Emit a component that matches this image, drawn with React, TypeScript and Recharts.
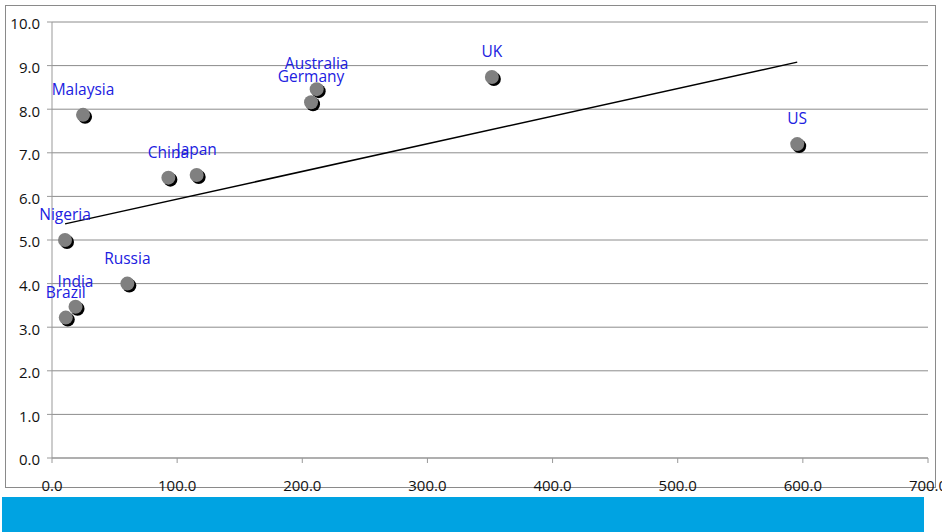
import React from "react";
import {
  ScatterChart, Scatter, XAxis, YAxis, CartesianGrid, LabelList,
} from "recharts";

const countries = ["Malaysia", "Nigeria", "Brazil", "India", "Russia", "China", "Japan", "Australia", "Germany", "UK", "US"];
const xValues = [24.8, 10.4, 11.0, 18.8, 60.2, 93.0, 115.6, 211.5, 207.0, 351.5, 595.5];
const yValues = [7.87, 5.0, 3.22, 3.47, 4.0, 6.43, 6.49, 8.46, 8.16, 8.74, 7.2];

const trendX = [10.4, 595.5];
const trendY = [5.37, 9.08];

const xTicks = [0, 100, 200, 300, 400, 500, 600, 700];
const yTicks = [0, 1, 2, 3, 4, 5, 6, 7, 8, 9, 10];

const points = countries.map((name, i) => ({ name, x: xValues[i], y: yValues[i] }));
const trend = trendX.map((x, i) => ({ x, y: trendY[i] }));

const FONT = "'Open Sans', sans-serif";

const Marker = (props: any) => {
  const { cx, cy } = props;
  return (
    <g>
      <circle cx={cx + 2} cy={cy + 2} r={7} fill="#000" />
      <circle cx={cx} cy={cy} r={7} fill="#808080" />
    </g>
  );
};

const PointLabel = (props: any) => {
  const { x, y, width, value } = props;
  const cx = x + width / 2;
  return (
    <text x={cx} y={y + width / 2 - 20} textAnchor="middle" fill="#2020e0" fontSize={15.5} fontFamily={FONT}>
      {value}
    </text>
  );
};

export default function App() {
  return (
    <div style={{ position: "absolute", left: 0, top: 0, width: 942, height: 532, background: "#fff" }}>
      <div style={{ position: "absolute", left: 5, top: 5, width: 929, height: 481, border: "1px solid #8a8a8a" }} />
      <div style={{ position: "absolute", left: 2, top: 497, width: 922, height: 35, background: "#00a3e2" }} />
      <div style={{ position: "absolute", left: 0, top: 0 }}>
        <ScatterChart width={942} height={532} margin={{ top: 22, right: 14, left: 7, bottom: 44 }}>
          <CartesianGrid vertical={false} stroke="#8c8c8c" strokeWidth={1} />
          <XAxis
            type="number"
            dataKey="x"
            domain={[0, 700]}
            ticks={xTicks}
            interval={0}
            tickFormatter={(v: number) => v.toFixed(1)}
            stroke="#999"
            tickSize={5}
            tickMargin={17}
            height={30}
            tick={{ fill: "#111", fontSize: 15, fontFamily: FONT }}
          />
          <YAxis
            type="number"
            dataKey="y"
            domain={[0, 10]}
            ticks={yTicks}
            interval={0}
            tickFormatter={(v: number) => v.toFixed(1)}
            stroke="#999"
            tickSize={5}
            tickMargin={7}
            width={45}
            tick={{ fill: "#111", fontSize: 15, fontFamily: FONT, dy: 2 }}
          />
          <Scatter
            data={trend}
            line={{ stroke: "#000", strokeWidth: 1.5 }}
            shape={() => null}
            isAnimationActive={false}
          />
          <Scatter data={points} shape={<Marker />} isAnimationActive={false}>
            <LabelList dataKey="name" content={<PointLabel />} />
          </Scatter>
        </ScatterChart>
      </div>
    </div>
  );
}
